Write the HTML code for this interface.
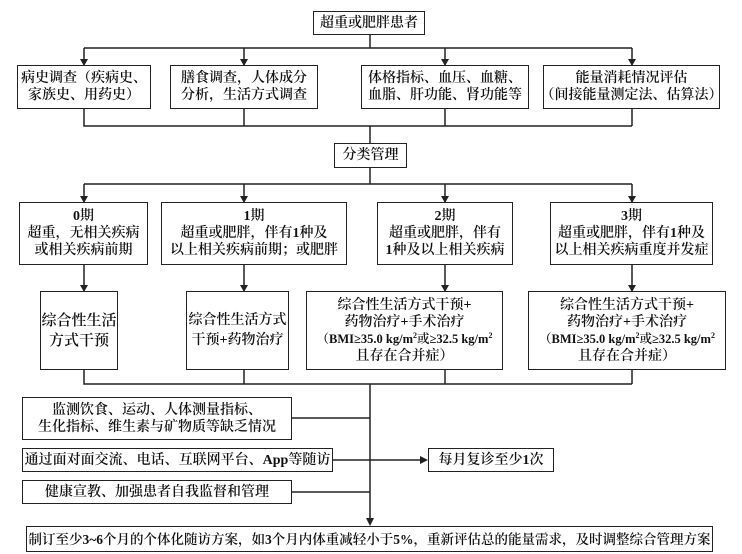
<!DOCTYPE html>
<html><head><meta charset="utf-8"><style>
body{margin:0;width:742px;height:554px;background:#fff;position:relative;overflow:hidden}
.b{position:absolute;border:1.5px solid #222;box-sizing:border-box;display:flex;align-items:center;justify-content:center;text-align:center;font-family:"Liberation Serif","Noto Serif CJK SC",serif;font-size:14px;line-height:17px;color:#111;font-weight:600;white-space:nowrap}
.b>div{display:block}
svg{position:absolute;left:0;top:0}
sup{font-size:8px;line-height:0;vertical-align:5px}
</style></head><body>
<svg width="742" height="554" stroke="#222" stroke-width="1.5" fill="none">
<path d="M370 34V48M84 48H632M84 48V65M244 48V65M445 48V65M632 48V65"/>
<path d="M84 109V126H632M244 109V126M445 109V126M632 109V126M370 126V143"/>
<path d="M370 167V184M84 184H632M84 184V202M244 184V202M445 184V202M632 184V202"/>
<path d="M84 265V291M244 265V291M445 265V291M632 265V291"/>
<path d="M84 370V384H632M244 370V384M445 370V384M632 370V384M370 384V522"/>
<path d="M292 418H370M333 460H422M292 492H370"/>
<g fill="#222" stroke="none">
<path d="M80 59L84 66L88 59ZM240 59L244 66L248 59ZM441 59L445 66L449 59ZM628 59L632 66L636 59Z"/>
<path d="M80 196L84 203L88 196ZM240 196L244 203L248 196ZM441 196L445 203L449 196ZM628 196L632 203L636 196Z"/>
<path d="M80 285L84 292L88 285ZM240 285L244 292L248 285ZM441 285L445 292L449 285ZM628 285L632 292L636 285Z"/>
<path d="M366 518L370 526L374 518ZM420 456L428 460L420 464Z"/>
</g>
</svg>
<div class="b" style="left:313px;top:11px;width:112px;height:24px"><div>超重或肥胖患者</div></div>
<div class="b" style="left:17px;top:65px;width:134px;height:44px"><div>病史调查（疾病史、<br>家族史、用药史）</div></div>
<div class="b" style="left:170px;top:65px;width:148px;height:44px"><div>膳食调查，人体成分<br>分析，生活方式调查</div></div>
<div class="b" style="left:361px;top:65px;width:168px;height:44px"><div>体格指标、血压、血糖、<br>血脂、肝功能、肾功能等</div></div>
<div class="b" style="left:543px;top:65px;width:177px;height:44px"><div>能量消耗情况评估<br>（间接能量测定法、估算法）</div></div>
<div class="b" style="left:334px;top:143px;width:73px;height:25px"><div>分类管理</div></div>
<div class="b" style="left:19px;top:202px;width:129px;height:63px"><div>0期<br>超重，无相关疾病<br>或相关疾病前期</div></div>
<div class="b" style="left:161px;top:202px;width:186px;height:63px"><div>1期<br>超重或肥胖，伴有1种及<br>以上相关疾病前期；或肥胖</div></div>
<div class="b" style="left:377px;top:202px;width:136px;height:63px"><div>2期<br>超重或肥胖，伴有<br>1种及以上相关疾病</div></div>
<div class="b" style="left:550px;top:202px;width:163px;height:63px"><div>3期<br>超重或肥胖，伴有1种及<br>以上相关疾病重度并发症</div></div>
<div class="b" style="left:40px;top:291px;width:78px;height:79px;font-size:15px;line-height:20px"><div>综合性生活<br>方式干预</div></div>
<div class="b" style="left:186px;top:291px;width:103px;height:79px;font-size:14px;line-height:20px"><div>综合性生活方式<br>干预+药物治疗</div></div>
<div class="b" style="left:306px;top:291px;width:197px;height:79px;font-size:14px;line-height:17px"><div>综合性生活方式干预+<br>药物治疗+手术治疗<br><span style="font-size:12.5px">（BMI≥35.0 kg/m<sup>2</sup>或≥32.5 kg/m<sup>2</sup></span><br>且存在合并症）</div></div>
<div class="b" style="left:528px;top:291px;width:198px;height:79px;font-size:14px;line-height:17px"><div>综合性生活方式干预+<br>药物治疗+手术治疗<br><span style="font-size:12.5px">（BMI≥35.0 kg/m<sup>2</sup>或≥32.5 kg/m<sup>2</sup></span><br>且存在合并症）</div></div>
<div class="b" style="left:22px;top:397px;width:270px;height:43px"><div>监测饮食、运动、人体测量指标、<br>生化指标、维生素与矿物质等缺乏情况</div></div>
<div class="b" style="left:22px;top:448px;width:311px;height:24px"><div>通过面对面交流、电话、互联网平台、App等随访</div></div>
<div class="b" style="left:428px;top:448px;width:126px;height:24px"><div>每月复诊至少1次</div></div>
<div class="b" style="left:22px;top:480px;width:270px;height:24px"><div>健康宣教、加强患者自我监督和管理</div></div>
<div class="b" style="left:26px;top:526px;width:687px;height:26px;font-size:13.5px"><div>制订至少3~6个月的个体化随访方案，如3个月内体重减轻小于5%，重新评估总的能量需求，及时调整综合管理方案</div></div>
</body></html>
